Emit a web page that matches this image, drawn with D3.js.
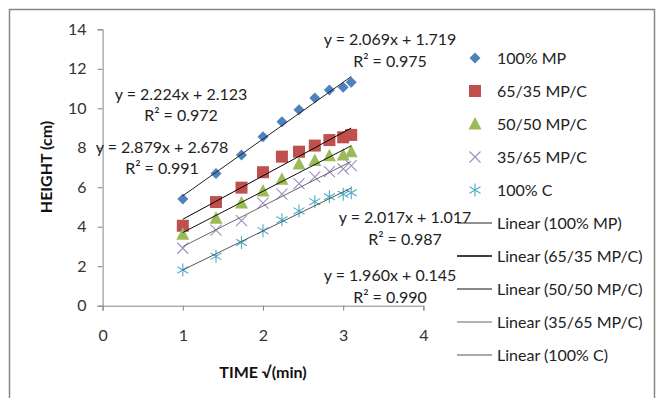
<!DOCTYPE html>
<html><head><meta charset="utf-8">
<script src="https://cdn.jsdelivr.net/npm/d3@7"></script>
<style>
html,body{margin:0;padding:0;background:#fff;}
svg text{font-family:Lato,"Open Sans",sans-serif;}
</style></head>
<body>
<svg id="chart" width="662" height="398"></svg>
<script>
const xVals = [1, 1.414, 1.732, 2, 2.236, 2.449, 2.646, 2.828, 3, 3.1];
const mp100 = [5.40, 6.69, 7.63, 8.56, 9.32, 9.92, 10.52, 10.93, 11.06, 11.32];
const mp65 = [4.05, 5.25, 5.98, 6.76, 7.55, 7.80, 8.11, 8.39, 8.53, 8.65];
const mp50 = [3.62, 4.43, 5.20, 5.81, 6.40, 7.18, 7.35, 7.60, 7.63, 7.80];
const mp35 = [2.91, 3.83, 4.31, 5.20, 5.65, 6.18, 6.53, 6.79, 6.93, 7.10];
const c100 = [1.81, 2.50, 3.20, 3.80, 4.35, 4.80, 5.27, 5.52, 5.64, 5.72];
const seriesNames = ["100% MP", "65/35 MP/C", "50/50 MP/C", "35/65 MP/C", "100% C"];
const seriesValues = [mp100, mp65, mp50, mp35, c100];
const xTicks = [0, 1, 2, 3, 4];
const yTicks = [0, 2, 4, 6, 8, 10, 12, 14];
const eqLabels = [
  ["y = 2.069x + 1.719", "R² = 0.975"],
  ["y = 2.224x + 2.123", "R² = 0.972"],
  ["y = 2.879x + 2.678", "R² = 0.991"],
  ["y = 2.017x + 1.017", "R² = 0.987"],
  ["y = 1.960x + 0.145", "R² = 0.990"]
];

const colors = ["#4F81BD", "#C0504D", "#9BBB59", "#8064A2", "#4BACC6"];
const lineColors = ["#222", "#000", "#111", "#666", "#555"];
const lineWidths = [1, 1.6, 1, 1, 1];
const eqPos = [[390, 45, 67], [181, 100, 121], [162, 153, 174], [405, 223, 245], [390, 281, 303]];

const svg = d3.select("#chart");
svg.append("rect").attr("x", 9.5).attr("y", 9.5).attr("width", 645).attr("height", 400)
  .attr("fill", "#fff").attr("stroke", "#868686").attr("stroke-width", 1.5);

const x = d3.scaleLinear().domain([0, 4]).range([102.6, 423.4]);
const y = d3.scaleLinear().domain([0, 14]).range([305.7, 29.3]);

const axisColor = "#868686";
const gx = svg.append("g").attr("transform", `translate(0,${y(0)})`)
  .call(d3.axisBottom(x).tickValues(xTicks).tickSize(5).tickPadding(19).tickFormat(d3.format("d")));
const gy = svg.append("g").attr("transform", `translate(${x(0)},0)`)
  .call(d3.axisLeft(y).tickValues(yTicks).tickSize(5).tickPadding(11).tickFormat(d3.format("d")));
[gx, gy].forEach(g => {
  g.select(".domain").attr("stroke", axisColor);
  g.selectAll(".tick line").attr("stroke", axisColor);
  g.selectAll(".tick text").attr("fill", "#333").style("font-size", "16px").style("font-family", "Lato");
});

// trend lines via least squares
function fit(xs, ys) {
  const n = xs.length, mx = d3.mean(xs), my = d3.mean(ys);
  let sxy = 0, sxx = 0;
  for (let i = 0; i < n; i++) { sxy += (xs[i]-mx)*(ys[i]-my); sxx += (xs[i]-mx)**2; }
  const b = sxy / sxx; return {b, a: my - b*mx};
}
const xMin = d3.min(xVals), xMax = d3.max(xVals);

function drawMarker(g, i, cx, cy) {
  if (i === 0) {
    const s = 5.5;
    g.append("path").attr("d", `M${cx},${cy-s}L${cx+s},${cy}L${cx},${cy+s}L${cx-s},${cy}Z`).attr("fill", colors[0]);
  } else if (i === 1) {
    g.append("rect").attr("x", cx-6).attr("y", cy-6).attr("width", 12).attr("height", 12).attr("fill", colors[1]);
  } else if (i === 2) {
    g.append("path").attr("d", `M${cx},${cy-7}L${cx+6.5},${cy+5.5}L${cx-6.5},${cy+5.5}Z`).attr("fill", colors[2]);
  } else if (i === 3) {
    const s = 5.5;
    g.append("path").attr("d", `M${cx-s},${cy-s}L${cx+s},${cy+s}M${cx-s},${cy+s}L${cx+s},${cy-s}`)
      .attr("stroke", "#9F8CC0").attr("stroke-width", 1.1).attr("fill", "none");
  } else {
    const s = 6.5, d = 5.5;
    g.append("path").attr("d", `M${cx},${cy-s}L${cx},${cy+s}M${cx-d},${cy-d*0.6}L${cx+d},${cy+d*0.6}M${cx-d},${cy+d*0.6}L${cx+d},${cy-d*0.6}`)
      .attr("stroke", colors[4]).attr("stroke-width", 1.1).attr("fill", "none");
  }
}

const pts = svg.append("g");
seriesValues.forEach((vals, i) => {
  vals.forEach((v, j) => drawMarker(pts, i, x(xVals[j]), y(v)));
});
seriesValues.forEach((vals, i) => {
  const f = fit(xVals, vals);
  svg.append("line").attr("x1", x(xMin)).attr("y1", y(f.a + f.b*xMin))
    .attr("x2", x(xMax)).attr("y2", y(f.a + f.b*xMax))
    .attr("stroke", lineColors[i]).attr("stroke-width", 1);
});

eqLabels.forEach((lab, i) => {
  const p = eqPos[i];
  svg.append("text").attr("x", p[0]).attr("y", p[1]).attr("text-anchor", "middle")
    .attr("fill", "#222").style("font-size", "16px").text(lab[0]);
  svg.append("text").attr("x", p[0]).attr("y", p[2]).attr("text-anchor", "middle")
    .attr("fill", "#222").style("font-size", "16px").text(lab[1]);
});

svg.append("text").attr("x", 263).attr("y", 378).attr("text-anchor", "middle")
  .style("font-size", "16px").style("font-weight", "bold").attr("fill", "#111").text("TIME √(min)");
svg.append("text").attr("transform", "translate(51.5,167) rotate(-90)").attr("text-anchor", "middle")
  .style("font-size", "16px").style("font-weight", "bold").attr("fill", "#111").text("HEIGHT (cm)");

const leg = svg.append("g");
seriesNames.forEach((n, i) => {
  const cy = 58 + i * 33;
  drawMarker(leg, i, 475, cy);
  leg.append("text").attr("x", 497).attr("y", cy + 5.5).attr("fill", "#222").style("font-size", "16px").text(n);
});
seriesNames.forEach((n, i) => {
  const cy = 223 + i * 33;
  leg.append("line").attr("x1", 457).attr("x2", 492).attr("y1", cy).attr("y2", cy)
    .attr("stroke", lineColors[i]).attr("stroke-width", lineWidths[i]);
  leg.append("text").attr("x", 497).attr("y", cy + 5.5).attr("fill", "#222").style("font-size", "16px").text(`Linear (${n})`);
});
</script>
</body></html>
